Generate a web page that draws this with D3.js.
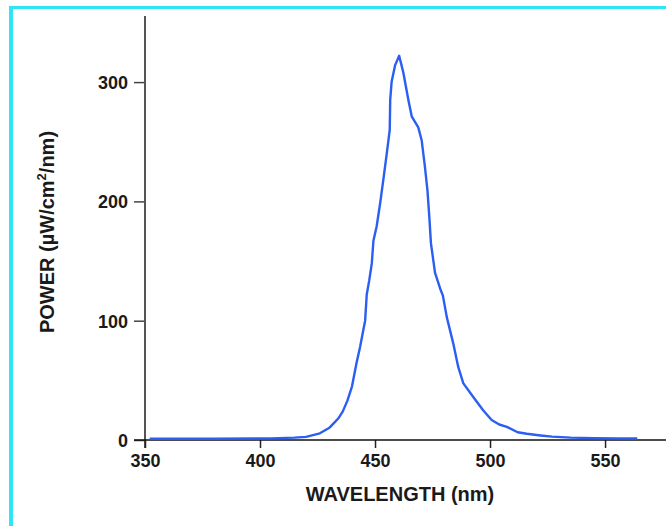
<!DOCTYPE html>
<html><head><meta charset="utf-8">
<script src="https://cdn.jsdelivr.net/npm/d3@7/dist/d3.min.js"></script>
<style>
html,body{margin:0;padding:0;background:#fff;}
svg{display:block;}
text{font-family:"Liberation Sans",Arial,sans-serif;font-weight:bold;fill:#1a1a1a;}
</style></head>
<body>
<svg id="c" width="666" height="526"></svg>
<script>
const wavelength = [352,380,405,415,420,426,430,432,434,436,438,440,442,443.5,444.5,445.7,446.4,447.5,448.6,449.3,450.7,452.2,453.6,455.1,456.4,456.6,457.2,458.7,460.5,462.3,464.5,466,468.8,470.3,471.7,472.8,473.6,474.3,476.1,478.3,479.5,481.2,484,486.2,488.4,492.7,497,500.7,504,507.3,512,516,522,527,535,545,555,564];
const power = [1,1,1.4,2,2.6,5.6,10,14,18,24,33,45,65,78,88,100,122,134,148,167,179,198,218,240,260,285,300,314,322,308,285,271,262,251,229,209,187,165,140,127,121,103,81,61,47.5,36,25,16.8,13,11,6.5,5.2,3.8,2.8,2,1.6,1.4,1.2];
const xTicks = [350,400,450,500,550];
const yTicks = [0,100,200,300];
const xTitle = "WAVELENGTH (nm)";

const svg = d3.select("#c");
// frame
svg.append("rect").attr("x",9).attr("y",6).attr("width",657).attr("height",3).attr("fill","#2ee4f5");
svg.append("rect").attr("x",9).attr("y",6).attr("width",4).attr("height",520).attr("fill","#2ee4f5");

const x = d3.scaleLinear().domain([350,576.5]).range([145,666]);
const y = d3.scaleLinear().domain([0,355.4]).range([440,16]);

// y axis
const ya = svg.append("g").attr("transform","translate(145,0)")
  .call(d3.axisLeft(y).tickValues(yTicks).tickSize(11).tickSizeOuter(0).tickPadding(6));
ya.select(".domain").remove();
ya.selectAll(".tick line").attr("stroke","#444").attr("stroke-width",1.5);
ya.selectAll(".tick text").attr("font-size",18).attr("dy","0.35em").attr("fill","#1a1a1a");
svg.append("line").attr("x1",145).attr("x2",145).attr("y1",16).attr("y2",448)
  .attr("stroke","#555").attr("stroke-width",2);

// x axis
const xa = svg.append("g").attr("transform","translate(0,440)")
  .call(d3.axisBottom(x).tickValues(xTicks).tickSize(8).tickSizeOuter(0).tickPadding(6));
xa.select(".domain").remove();
xa.selectAll(".tick line").attr("stroke","#222").attr("stroke-width",1.5);
xa.selectAll(".tick text").attr("font-size",18).attr("fill","#1a1a1a");
svg.append("line").attr("x1",134).attr("x2",666).attr("y1",440).attr("y2",440)
  .attr("stroke","#111").attr("stroke-width",1.6);

// curve
const line = d3.line().x((d,i)=>x(wavelength[i])).y(d=>y(d));
svg.append("path").datum(power).attr("d",line).attr("fill","none")
  .attr("stroke","#2b5ef2").attr("stroke-width",2.4).attr("stroke-linejoin","round");

// titles
svg.append("text").attr("x",400).attr("y",501).attr("text-anchor","middle")
  .attr("font-size",20).text(xTitle);
const yl = svg.append("text").attr("transform","translate(54,232) rotate(-90)")
  .attr("text-anchor","middle").attr("font-size",20);
yl.append("tspan").text("POWER (µW/cm");
yl.append("tspan").attr("font-size",13).attr("dy",-8).text("2");
yl.append("tspan").attr("dy",8).text("/nm)");
</script>
</body></html>
